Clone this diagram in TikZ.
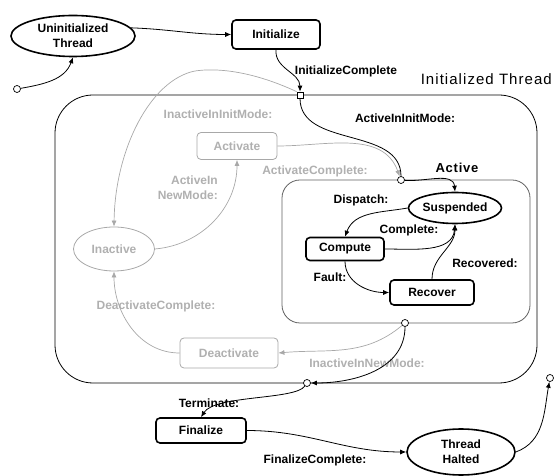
\documentclass[tikz,border=0pt]{standalone}
\usepackage{fontspec}
\setmainfont{Liberation Sans}
\usetikzlibrary{shapes.geometric,arrows.meta}

\definecolor{greyline}{RGB}{168,168,168}
\definecolor{greytext}{RGB}{176,176,176}
\definecolor{boxline}{RGB}{96,96,96}
\newcommand{\labfont}{\fontsize{12}{15}\selectfont\bfseries}

\tikzset{
	stbox/.style={draw,rounded corners=4pt,line width=1.6pt,inner sep=0pt,font=\labfont},
	stoval/.style={draw,ellipse,line width=1.6pt,inner sep=0pt,align=center,font=\labfont},
	gbox/.style={draw=greyline,rounded corners=4pt,line width=0.8pt,inner sep=0pt,text=greytext,font=\labfont},
	goval/.style={draw=greyline,ellipse,line width=0.8pt,inner sep=0pt,text=greytext,font=\labfont},
	junc/.style={draw,circle,fill=white,inner sep=0pt,minimum size=7pt,line width=0.7pt},
	jsq/.style={draw,rectangle,fill=white,inner sep=0pt,minimum size=6pt,line width=0.7pt},
	lab/.style={inner sep=0pt,font=\labfont},
	glab/.style={lab,text=greytext},
	conn/.style={->,line width=0.8pt},
	gconn/.style={->,line width=0.7pt,draw=greyline},
}

\begin{document}
\begin{tikzpicture}[x=1pt,y=1pt,>={Latex[length=6pt,width=5pt]}]
	\useasboundingbox (0,0) rectangle (554,476);

	% containers
	\node[draw,rounded corners=38pt,minimum width=482pt,minimum height=288pt,line width=0.8pt] (initbox) at (296,237) {};
	\node[draw=boxline,rounded corners=18pt,minimum width=248pt,minimum height=143pt,line width=0.8pt] (activebox) at (406,224.5) {};
	\node[anchor=east,inner sep=0pt,font=\fontsize{15}{17}\selectfont\addfontfeature{LetterSpace=7}] (initttl) at (552,397) {Initialized Thread};
	\node[inner sep=0pt,font=\fontsize{13}{15}\selectfont\bfseries\addfontfeature{LetterSpace=6}] (activettl) at (457,308) {Active};

	% states
	\node[stoval,minimum width=124pt,minimum height=41pt] (uninit) at (73,440) {Uninitialized\\Thread};
	\node[stbox,minimum width=88pt,minimum height=29pt] (init) at (276,441.5) {Initialize};
	\node[stoval,minimum width=93pt,minimum height=31pt] (susp) at (455,268) {Suspended};
	\node[stbox,minimum width=78pt,minimum height=23pt] (compute) at (345,227) {Compute};
	\node[stbox,minimum width=84pt,minimum height=25pt] (recover) at (432,183.5) {Recover};
	\node[stbox,minimum width=90pt,minimum height=25pt] (final) at (201,45.5) {Finalize};
	\node[stoval,minimum width=108pt,minimum height=46pt] (halted) at (461,24) {Thread\\Halted};
	\node[gbox,minimum width=80pt,minimum height=27pt] (activate) at (237,330) {Activate};
	\node[goval,minimum width=81pt,minimum height=44pt] (inactive) at (114,227) {Inactive};
	\node[gbox,minimum width=98pt,minimum height=30pt] (deactivate) at (229,123) {Deactivate};

	% junctions
	\node[junc] (startpt) at (17,387) {};
	\node[jsq] (initsq) at (300,381) {};
	\node[junc] (actin) at (401,296) {};
	\node[junc] (actout) at (405,153) {};
	\node[junc] (outpt) at (307,93) {};
	\node[junc] (endpt) at (550,98) {};

	% labels
	\node[lab] (lblinitc) at (346,405) {InitializeComplete};
	\node[lab] (lblaiim) at (405,358) {ActiveInInitMode:};
	\node[lab] (lbldisp) at (361,276) {Dispatch:};
	\node[lab] (lblcompl) at (409,246) {Complete:};
	\node[lab] (lblfault) at (330,199) {Fault:};
	\node[lab] (lblrecov) at (485,213) {Recovered:};
	\node[lab] (lblterm) at (209,73) {Terminate:};
	\node[lab] (lblfinc) at (315,16) {FinalizeComplete:};
	\node[glab] (lbliiim) at (218,362) {InactiveInInitMode:};
	\node[glab,anchor=east,align=right] (lblainm) at (218,288.5) {ActiveIn\\NewMode:};
	\node[glab] (lblactc) at (315,305) {ActivateComplete:};
	\node[glab] (lbldeac) at (156,170) {DeactivateComplete:};
	\node[glab] (lbliinm) at (367,113) {InactiveInNewMode:};

	% grey transitions
	\draw[gconn] (initsq.north west) .. controls (250,406) and (215,408) .. (195,405) .. controls (150,396) and (115,326) .. (inactive.north);	%initsq--inactive
	\draw[gconn] (inactive.east) to[out=5,in=-90] (activate.south);		%inactive--activate
	\draw[gconn] (activate.east) to[out=0,in=110] (actin);				%activate--actin
	\draw[gconn] (actout) to[out=-140,in=5] (deactivate.east);			%actout--deactivate
	\draw[gconn] (deactivate.west) to[out=180,in=-90] (inactive.south);	%deactivate--inactive

	% black transitions
	\draw[conn] (uninit.8) to[out=-2,in=180] (init.west);				%uninit--init
	\draw[conn] (startpt) to[out=10,in=-110] (uninit.south);			%start--uninit
	\draw[conn] (init.south) to[out=-95,in=90] (initsq.north);			%init--initsq
	\draw[line width=0.8pt] (initsq.south) to[out=-90,in=90] (actin.north);	%initsq--actin
	\draw[conn] (actin) to[out=-5,in=95] (susp.north);					%actin--susp
	\draw[conn] (susp.west) to[out=190,in=70] (compute.north);			%susp--compute
	\draw[conn] (compute.east) to[out=0,in=-95] (susp.south);			%compute--susp
	\draw[conn] (compute.south) to[out=-90,in=180] (recover.west);		%compute--recover
	\draw[conn] (recover.north) to[out=90,in=-90] (susp.south);			%recover--susp
	\draw[conn] (actout) to[out=-90,in=0] (outpt);						%actout--outpt
	\draw[conn] (outpt) .. controls (295,76) and (215,81) .. (final.north);	%outpt--finalize
	\draw[conn] (final.east) to[out=0,in=180] (halted.west);			%finalize--halted
	\draw[conn] (halted.east) to[out=20,in=-100] (endpt);				%halted--end
\end{tikzpicture}
\end{document}
